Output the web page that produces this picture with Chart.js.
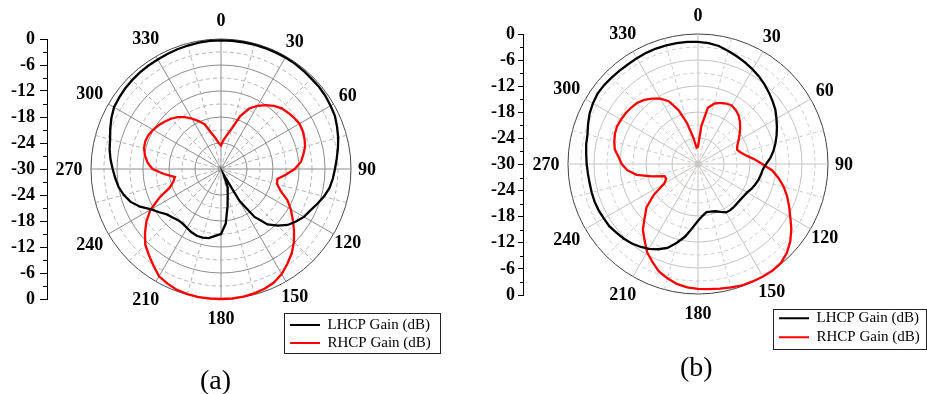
<!DOCTYPE html>
<html><head><meta charset="utf-8">
<script src="https://cdn.jsdelivr.net/npm/chart.js@4/dist/chart.umd.min.js"></script>
<style>
html,body{margin:0;padding:0;background:#fff;width:927px;height:394px;overflow:hidden;}
canvas{position:absolute;top:0;}
#ca{left:0}
#cb{left:463px}
.cap{position:absolute;font-family:'Liberation Serif','Times New Roman',serif;font-size:28px;color:#000;line-height:28px;}
</style></head><body>
<canvas id="ca" width="463" height="394"></canvas>
<canvas id="cb" width="464" height="394"></canvas>
<div class="cap" style="left:200px;top:366px">(a)</div>
<div class="cap" style="left:680px;top:353px">(b)</div>
<script>
// ---- data ----
const ANGLES = [0,5,10,15,20,25,30,35,40,45,50,55,60,65,70,75,80,85,90,95,100,105,110,115,120,125,130,135,140,145,150,155,160,165,170,175,180,185,190,195,200,205,210,215,220,225,230,235,240,245,250,255,260,265,270,275,280,285,290,295,300,305,310,315,320,325,330,335,340,345,350,355];
const ANGLE_TICKS = [0,30,60,90,120,150,180,210,240,270,300,330];
const SERIES_NAMES = ['LHCP Gain (dB)', 'RHCP Gain (dB)'];

const LHCP_A = [-0.3,-0.3,-0.3,-0.3,-0.3,-0.3,-0.3,-0.3,-0.4,-0.5,-0.5,-0.6,-0.8,-1.0,-1.5,-2.0,-2.6,-3.2,-3.7,-4.1,-4.6,-5.4,-6.4,-7.3,-7.9,-8.9,-9.9,-11.5,-13.3,-16.5,-21.5,-28.5,-25.5,-24,-21.3,-17.4,-15,-14.5,-13.8,-13.6,-13.6,-13.9,-14.3,-14.6,-14.6,-14.2,-13.7,-12.6,-11.4,-9.4,-7.8,-6.8,-6.0,-5.5,-5.0,-4.4,-3.9,-3.5,-2.8,-2.1,-1.5,-1.3,-1.1,-1.0,-0.9,-0.85,-0.8,-0.7,-0.6,-0.5,-0.4,-0.3];
const RHCP_A = [-24.6,-23.3,-22,-20.3,-17,-14.6,-13.2,-12,-11,-10.2,-9.8,-9.4,-9.1,-9.2,-9.5,-9.9,-10.7,-11.5,-13,-15,-16.8,-16.6,-15.4,-13.1,-11.4,-9.8,-8,-6.2,-4.6,-3.3,-2,-1.1,-0.6,-0.3,-0.1,0,0,0,0,-0.1,-0.3,-0.8,-1.4,-2.8,-4.1,-5.3,-7.1,-9,-11.2,-14.3,-17.4,-18.6,-19.2,-16.8,-14.2,-13,-12.2,-11.6,-11.4,-11.5,-11.9,-12.4,-13,-13.6,-14.4,-15.4,-16.6,-17.8,-19,-21.4,-22.8,-24];
const LHCP_B = [-1.8,-2.0,-2.35,-3.0,-3.6,-4.2,-4.8,-5.4,-6.1,-6.8,-7.5,-8.2,-9.1,-9.9,-10.7,-11.5,-12.3,-13.2,-14.3,-15,-15.3,-15.6,-16,-16.4,-16.9,-17.1,-17.2,-17.2,-17.1,-17.0,-17.1,-17.8,-18.4,-18.6,-18.7,-18,-16.9,-15.2,-13,-11.2,-9.4,-8.3,-7.4,-6.7,-6.1,-5.7,-5.4,-5.0,-4.9,-4.7,-4.6,-4.6,-4.6,-4.5,-4.3,-4.1,-3.8,-3.6,-3.0,-2.4,-2.0,-1.7,-1.7,-1.8,-1.85,-1.9,-1.8,-1.7,-1.65,-1.65,-1.65,-1.7];
const RHCP_B = [-26,-21.2,-16.8,-15.6,-15,-14.6,-14.4,-14.8,-15.4,-16.3,-17.3,-18.3,-19.2,-20,-20.4,-19.8,-18.7,-17,-15.2,-12.8,-11.1,-9.5,-8.1,-6.8,-5.4,-3.7,-2.2,-1.0,-0.2,0,0,-0.1,-0.2,-0.5,-0.8,-1.0,-1.2,-1.4,-1.9,-2.7,-3.6,-5.1,-6.5,-8.5,-10.2,-12.6,-14.5,-17.5,-21,-21.9,-21.8,-19,-15.6,-13.6,-12.4,-11.6,-10.5,-10,-9.6,-9.4,-9.5,-9.6,-9.8,-10.1,-10.7,-11.6,-12.6,-14,-16.7,-20.2,-23.8,-26.2];

const GAIN_MIN = -30, GAIN_MAX = 0, GAIN_STEP = 6;
const LINE_COLORS = ['#000000', '#ff0000'];

// ---- plugin: angle labels, minor ticks, legend frame ----
const polarDecor = {
  id: 'polarDecor',
  afterLayout(chart, args, opts) {
    const lg = chart.legend;
    if (lg && opts.legendAt) {
      const w = lg.width, h = lg.height;
      lg.left = opts.legendAt.x; lg.top = opts.legendAt.y;
      lg.right = lg.left + w; lg.bottom = lg.top + h;
    }
  },
  afterDraw(chart, args, opts) {
    const ctx = chart.ctx;
    const r = chart.scales.r;
    ctx.save();
    ctx.font = 'bold 18px "Liberation Serif"';
    ctx.fillStyle = '#000';
    ctx.textAlign = 'center';
    ctx.textBaseline = 'middle';
    ANGLE_TICKS.forEach(a => {
      const idx = ANGLES.indexOf(a);
      const th = a * Math.PI / 180;
      const p = r.getPointPosition(idx, r.drawingArea + 19 - 3 * Math.sin(th));
      ctx.fillText(String(a), p.x, p.y + 1);
    });
    const y = chart.scales.y;
    ctx.strokeStyle = '#000';
    ctx.lineWidth = 1;
    for (let v = -(30 - GAIN_STEP / 2); v <= 30 - GAIN_STEP / 2; v += GAIN_STEP) {
      const py = Math.round(y.getPixelForValue(v)) + 0.5;
      ctx.beginPath();
      ctx.moveTo(y.right - opts.minorLen, py);
      ctx.lineTo(y.right, py);
      ctx.stroke();
    }
    const lg = chart.legend, f = opts.frame;
    ctx.strokeStyle = '#222';
    ctx.strokeRect(Math.round(lg.left + f.dx) + 0.5, Math.round(lg.top + f.dy) + 0.5, f.w, f.h);
    ctx.restore();
  }
};

function makeChart(id, lhcp, rhcp, cfg) {
  return new Chart(document.getElementById(id), {
    type: 'radar',
    data: {
      labels: ANGLES.map(String),
      datasets: [lhcp, rhcp].map((d, i) => ({
        label: SERIES_NAMES[i], data: d,
        borderColor: LINE_COLORS[i], backgroundColor: LINE_COLORS[i],
        borderWidth: 2.3, fill: false, pointRadius: 0, pointHoverRadius: 0,
        tension: 0, clip: false
      }))
    },
    plugins: [polarDecor],
    options: {
      responsive: false, animation: false, devicePixelRatio: 1, events: [],
      layout: {padding: cfg.pad},
      scales: {
        r: {
          min: GAIN_MIN, max: GAIN_MAX, startAngle: 0,
          ticks: {display: false, stepSize: 3},
          pointLabels: {display: false},
          grid: {
            circular: true, lineWidth: 1,
            color: c => {
              const v = c.tick ? c.tick.value : 0;
              if (v === GAIN_MAX) return cfg.outer;
              if (v === GAIN_MIN || v === GAIN_MIN + 3) return 'rgba(0,0,0,0)';
              return (v % 6 === 0) ? cfg.solid : cfg.dashed;
            }
          },
          border: {dash: c => { const v = c.tick ? c.tick.value : 0; return (v % 6 === 0) ? [] : [4, 3]; }},
          angleLines: {
            display: true, lineWidth: 1,
            color: c => (c.index % 3 !== 0) ? 'rgba(0,0,0,0)' : (c.index % 6 === 0 ? cfg.solid : cfg.dashed),
            borderDash: c => (c.index % 6 === 0) ? [] : [4, 3]
          }
        },
        y: {
          type: 'linear', position: 'left', min: -30, max: 30,
          afterFit: s => { s.width = cfg.yWidth; },
          ticks: {
            stepSize: GAIN_STEP, autoSkip: false, padding: cfg.tickPad, color: '#000',
            font: {family: 'Liberation Serif', size: 18, weight: 'bold'},
            callback: v => String(Math.abs(v) - 30)
          },
          grid: {display: true, drawOnChartArea: false, drawTicks: true, tickLength: cfg.tickLen, tickColor: '#000', color: '#000'},
          border: {display: true, color: '#000', width: 1}
        }
      },
      plugins: {
        legend: {
          display: true, position: 'chartArea', align: 'start',
          labels: {
            font: {family: 'Liberation Serif', size: 15}, color: '#000',
            boxWidth: 30, boxHeight: 2, padding: cfg.legPad,
            generateLabels: ch => ch.data.datasets.map((ds, i) => ({
              text: ds.label, fillStyle: ds.borderColor, strokeStyle: ds.borderColor,
              lineWidth: 0, hidden: false, datasetIndex: i, fontColor: '#000'
            }))
          }
        },
        tooltip: {enabled: false},
        polarDecor: {legendAt: cfg.legendAt, frame: cfg.frame, minorLen: cfg.minorLen}
      }
    }
  });
}

makeChart('ca', LHCP_A, RHCP_A, {
  pad: {left: 0, right: 68, top: 39, bottom: 95}, yWidth: 47, tickLen: 7, tickPad: 5, minorLen: 4,
  solid: '#8c8c8c', dashed: '#b4b4b4', outer: '#4a4a4a',
  legPad: 3, legendAt: {x: 287, y: 314.5}, frame: {dx: -3, dy: -1.5, w: 156, h: 40}
});
makeChart('cb', LHCP_B, RHCP_B, {
  pad: {left: 0, right: 53, top: 34, bottom: 99}, yWidth: 60, tickLen: 5, tickPad: 3, minorLen: 3,
  solid: '#c6c2be', dashed: '#cccccc', outer: '#404040',
  legPad: 4, legendAt: {x: 312, y: 306.8}, frame: {dx: -2, dy: 2.5, w: 153, h: 40}
});
</script>
</body></html>
